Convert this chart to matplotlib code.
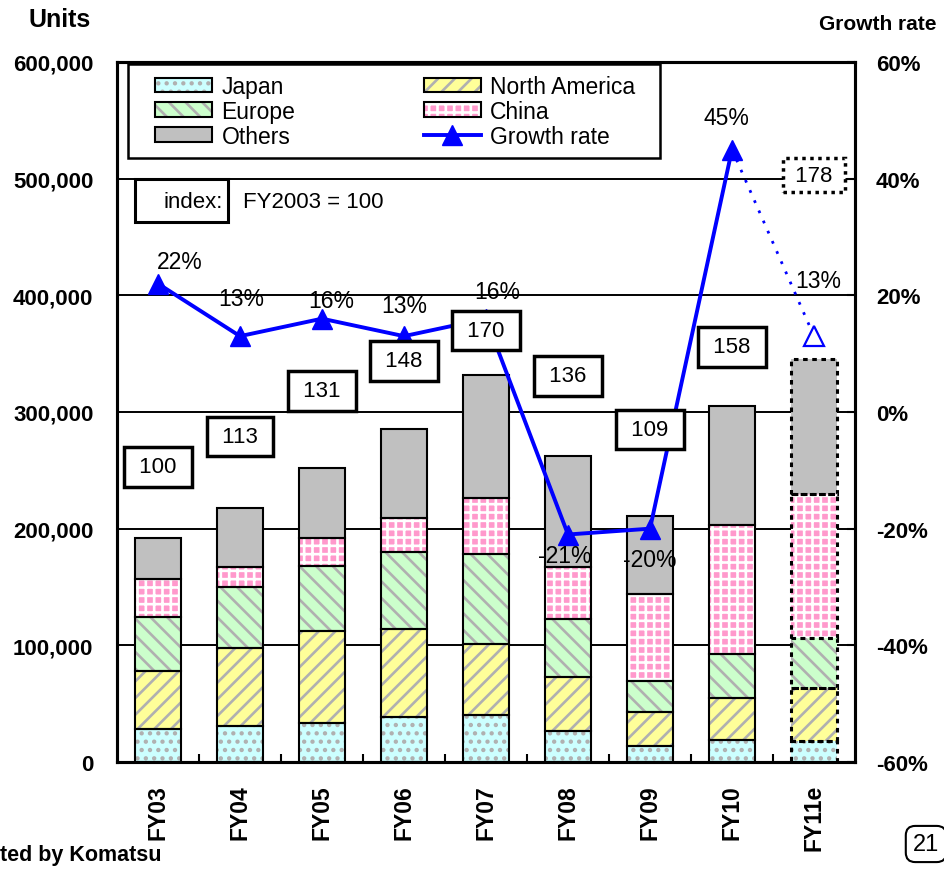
import matplotlib

matplotlib.use("Agg")
import matplotlib.pyplot as plt
import numpy as np
from matplotlib.patches import Patch, Rectangle
from matplotlib.lines import Line2D
from matplotlib.legend_handler import HandlerTuple

# --- data ---
years = ["FY03", "FY04", "FY05", "FY06", "FY07", "FY08", "FY09", "FY10", "FY11e"]
japan = [28.4, 31.2, 33.5, 38.7, 40.7, 26.4, 14.0, 19.2, 18.3]           # thousand units
north_america = [49.8, 66.8, 78.4, 75.0, 60.7, 46.4, 28.7, 35.8, 45.1]
europe = [46.4, 51.6, 55.9, 66.0, 76.6, 50.1, 26.7, 37.8, 43.2]
china = [32.1, 17.8, 24.4, 29.2, 48.7, 44.5, 74.8, 110.3, 123.2]
others = [35.6, 50.1, 59.6, 76.5, 105.1, 94.8, 66.4, 102.1, 115.8]
growth = [22, 13, 16, 13, 16, -21, -20, 45, 13]                          # %
index = [100, 113, 131, 148, 170, 136, 109, 158, 178]

unit_ticks = [0, 100000, 200000, 300000, 400000, 500000, 600000]
growth_ticks = [-60, -40, -20, 0, 20, 40, 60]

# --- layout / style ---
index_box_y = [253, 279, 318, 344, 370, 331, 285, 356, 503]   # thousand units
growth_offsets = [(16, 16), (1, 27), (7, 13), (0, 22), (8, 19.5),
                  (-2, -15), (0, -22), (-4, 23), (3, 40)]

FONT = "Liberation Sans"
LBL = 16  # size of the in-plot labels

plt.rcParams["hatch.linewidth"] = 1.9
BLUE = "#0000FF"
HATCH_GREY = "#B0B0B0"
segments = [
    ("Japan", japan, "#CCFFFF", "..", HATCH_GREY),
    ("North America", north_america, "#FFFF99", "//", HATCH_GREY),
    ("Europe", europe, "#CCFFCC", "\\\\", HATCH_GREY),
    ("China", china, "#FF99CC", "++", "white"),
    ("Others", others, "#C0C0C0", "", "#C0C0C0"),
]

W, H = 945, 870
fig = plt.figure(figsize=(W / 100, H / 100), dpi=100)
ax = fig.add_axes([117 / W, 107 / H, 738 / W, 700 / H])
x = np.arange(len(years))
width = 0.56

handles = {}
bottom = np.zeros(len(years))
for name, vals, face, hatch, hcol in segments:
    v = np.array(vals) * 1000
    ax.bar(x, v, width, bottom=bottom, color=face, hatch=hatch,
           edgecolor=hcol, lw=0, zorder=2)
    outline = ax.bar(x, v, width, bottom=bottom, fill=False,
                     edgecolor="black", lw=1.5, zorder=3)
    outline.patches[-1].set_linestyle((0, (1.5, 1.5)))
    outline.patches[-1].set_linewidth(2.2)
    handles[name] = (Patch(facecolor=face, hatch=hatch, edgecolor=hcol, lw=0),
                     Patch(fill=False, edgecolor="black", lw=1.5))
    bottom += v

ax.set_xlim(-0.5, len(years) - 0.5)
ax.set_ylim(0, 600000)
ax.set_yticks(unit_ticks)
ax.set_yticklabels([f"{t:,}" for t in unit_ticks])
ax.set_xticks(x)
ax.set_xticklabels(years, rotation=90)
ax.set_xticks(x[:-1] + 0.5, minor=True)
ax.tick_params(axis="x", which="major", length=0, pad=16)
ax.tick_params(axis="x", which="minor", direction="in", length=6, width=1.5)
ax.tick_params(axis="y", length=0, pad=17)
for lab in ax.get_xticklabels():
    lab.set_fontfamily(FONT)
    lab.set_fontweight("bold")
    lab.set_fontsize(16.5)
for lab in ax.get_yticklabels():
    lab.set_fontfamily(FONT)
    lab.set_fontweight("bold")
    lab.set_fontsize(16)
ax.grid(axis="y", color="black", lw=1.4)
ax.set_axisbelow(True)
for s in ax.spines.values():
    s.set_linewidth(2.2)

ax2 = ax.twinx()
ax2.set_ylim(-60, 60)
ax2.set_yticks(growth_ticks)
ax2.set_yticklabels([f"{t}%" for t in growth_ticks])
ax2.tick_params(axis="y", direction="in", length=6, width=1.5, pad=15)
for lab in ax2.get_yticklabels():
    lab.set_fontfamily(FONT)
    lab.set_fontweight("bold")
    lab.set_fontsize(16)
for s in ax2.spines.values():
    s.set_linewidth(2.2)

ax2.plot(x[7:9], growth[7:9], ls=(0, (1, 3)), color=BLUE, lw=2, zorder=3)
ax2.plot(x[:8], growth[:8], color=BLUE, lw=2.8, marker="^", ms=15, zorder=4)
ax2.plot(x[8], growth[8], marker="^", ms=15, mfc="white", mec=BLUE, mew=1.6,
         ls="none", zorder=4)
for xi, g, off in zip(x, growth, growth_offsets):
    ax2.annotate(f"{g}%", (xi, g), xytext=off, textcoords="offset points",
                 ha="center", va="center", family=FONT, fontsize=LBL + 0.5,
                 zorder=5)

# index boxes sit on top of the growth line
for i, (xi, val, yb) in enumerate(zip(x, index, index_box_y)):
    last = i == len(x) - 1
    t = ax2.text(xi, yb * 1000, f" {val} ", transform=ax.transData,
                 ha="center", va="center", family=FONT, fontsize=LBL,
                 zorder=6,
                 bbox=dict(boxstyle="square,pad=0.42" if not last else "square,pad=0.3",
                           fc="white", ec="black", lw=2.5))
    if last:
        t.get_bbox_patch().set_linestyle((0, (1, 1.3)))

ax2.add_patch(Rectangle((18 / 738, 540 / 700), 93 / 738, 43 / 700,
                        transform=ax2.transAxes, fc="white", ec="black",
                        lw=2.2, zorder=6))
ax2.text(106 / 738, 560 / 700, "index:", transform=ax2.transAxes, ha="right",
         va="center", family=FONT, fontsize=LBL, zorder=7)
ax2.text(126 / 738, 560 / 700, "FY2003 = 100", transform=ax2.transAxes,
         ha="left", va="center", family=FONT, fontsize=LBL, zorder=7)

# legend: frame drawn as a separate box so margins can match
ax2.add_patch(Rectangle((11 / 738, 604 / 700), 532 / 738, 94 / 700,
                        transform=ax2.transAxes, fc="white", ec="black",
                        lw=1.8, zorder=9))
leg_handles = [handles["Japan"], handles["Europe"], handles["Others"],
               handles["North America"], handles["China"],
               Line2D([], [], color=BLUE, lw=2.8, marker="^", ms=15)]
leg_labels = ["Japan", "Europe", "Others", "North America", "China", "Growth rate"]
leg = ax2.legend(leg_handles, leg_labels, ncol=2, loc="upper left",
                 bbox_to_anchor=(155 / W, 1 - 76 / H),
                 bbox_transform=fig.transFigure, frameon=False,
                 borderpad=0, borderaxespad=0,
                 handlelength=2.5, handleheight=0.6, handletextpad=0.4,
                 labelspacing=0.08, columnspacing=5.6,
                 handler_map={tuple: HandlerTuple(ndivide=1, pad=0)},
                 prop={"family": FONT, "size": 16.5})
leg.set_zorder(10)

fig.text(60 / W, 1 - 20 / H, "Units", ha="center", va="center",
         family=FONT, fontweight="bold", fontsize=18)
fig.text(878 / W, 1 - 24 / H, "Growth rate", ha="center", va="center",
         family=FONT, fontweight="bold", fontsize=15)
fig.text(0, 1 - 856 / H, "ted by Komatsu", ha="left",
         va="center", family=FONT, fontweight="bold", fontsize=15.5)
fig.text(926 / W, 1 - 845 / H, "21", ha="center", va="center",
         family=FONT, fontsize=17,
         bbox=dict(boxstyle="round,pad=0.3,rounding_size=0.4", fc="white",
                   ec="black", lw=1.5))

fig.savefig("out.png", dpi=100)
